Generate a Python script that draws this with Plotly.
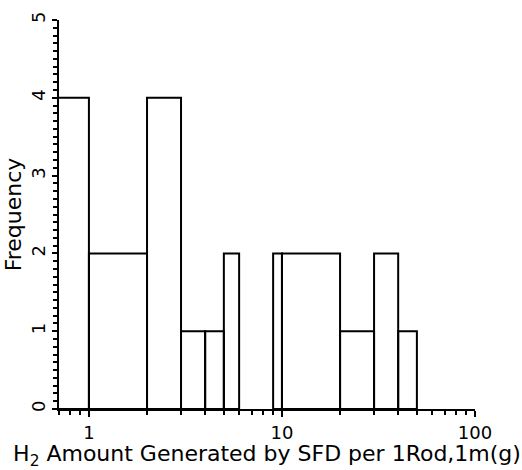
import plotly.graph_objects as go

bin_lo = [0.5, 1, 2, 3, 4, 5, 9, 10, 20, 30, 40]
bin_hi = [1, 2, 3, 4, 5, 6, 10, 20, 30, 40, 50]
counts = [4, 2, 4, 1, 1, 2, 2, 2, 1, 2, 1]
x_ticks = [1, 10, 100]
x_labels = ["1", "10", "100"]
x_minor = [0.7, 0.8, 0.9, 2, 3, 4, 5, 6, 7, 8, 9, 20, 30, 40, 50, 60, 70, 80, 90]

xs, ys = [], []
for lo, hi, c in zip(bin_lo, bin_hi, counts):
    xs += [lo, lo, hi, hi, lo, None]
    ys += [0, c, c, 0, 0, None]

fig = go.Figure()
fig.add_trace(go.Scatter(x=xs, y=ys, mode="lines",
                         line=dict(color="black", width=2),
                         fill="toself", fillcolor="white",
                         hoverinfo="skip", showlegend=False))

fig.update_layout(
    width=522, height=470,
    margin=dict(l=57, r=47, t=16, b=50),
    paper_bgcolor="white", plot_bgcolor="white",
    font=dict(family="DejaVu Sans", size=18, color="black"),
    xaxis=dict(type="log", range=[-0.155, 2.0],
               tickvals=x_ticks, ticktext=x_labels,
               ticks="outside", ticklen=6, tickwidth=2, tickcolor="black",
               minor=dict(ticks="outside", ticklen=4, tickwidth=2, tickcolor="black",
                          tickvals=x_minor),
               showline=True, linecolor="black", linewidth=2,
               showgrid=False, zeroline=False,
               title=dict(text="H<sub>2</sub> Amount Generated by SFD per 1Rod,1m(g)",
                          standoff=0)),
    yaxis=dict(range=[0, 5], tick0=0, dtick=1, tickangle=-90,
               ticks="outside", ticklen=5, tickwidth=2, tickcolor="black",
               minor=dict(ticks="outside", ticklen=4, tickwidth=1.5, tickcolor="black",
                          tick0=0, dtick=0.1),
               showline=True, linecolor="black", linewidth=2,
               showgrid=False, zeroline=False,
               title=dict(text="Frequency", standoff=0)),
)
fig.write_html("out.html")
